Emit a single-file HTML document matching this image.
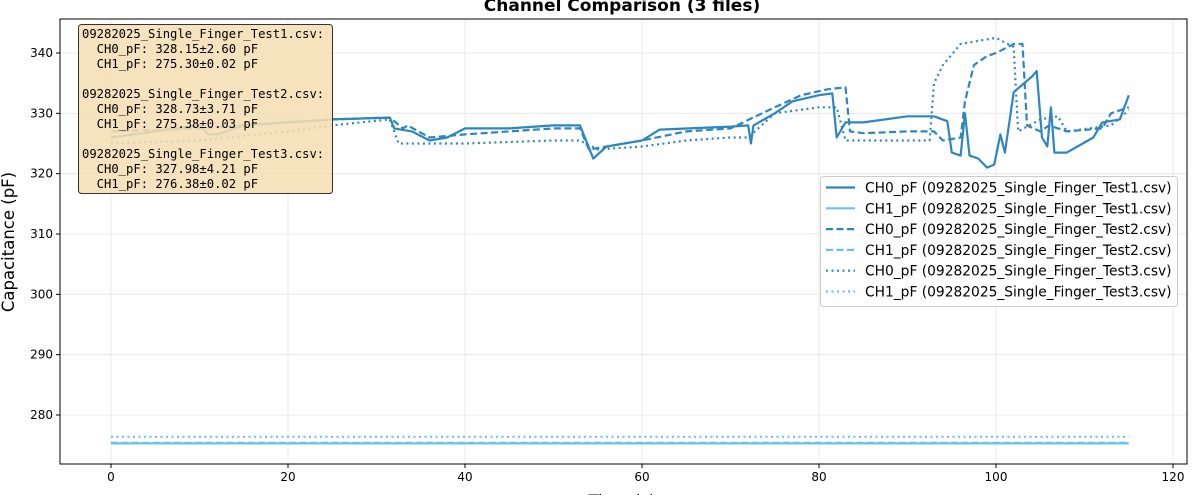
<!DOCTYPE html>
<html><head><meta charset="utf-8"><style>
body{margin:0;background:#fff;width:1199px;height:495px;overflow:hidden}
svg{display:block}
.sans{font-family:"DejaVu Sans","Liberation Sans",sans-serif}
.mono{font-family:"DejaVu Sans Mono","Liberation Mono",monospace;white-space:pre}
</style></head><body>
<svg id="chart" width="1199" height="495" xmlns="http://www.w3.org/2000/svg"></svg>
<script>
const xTicks=[0,20,40,60,80,100,120];
const yTicks=[280,290,300,310,320,330,340];
const t1=[0,5,10,11,12,15,20,25,31.5,32,34,36,38,40,45,50,53,54.5,56,60,62,70,72,72.3,72.6,75,77,80,81.5,82,83,85,90,93,94.5,95,96,96.5,97,98,99,99.8,100.5,101,102,104,104.6,105.2,105.8,106.2,106.6,108,111,112,114,115];
const ch0t1=[326,327,328,326.5,326.5,328,328.5,329,329.3,327.5,327,325.5,326,327.5,327.5,328,328,322.5,324.5,325.5,327.3,327.8,328,325,328,330,332,333,333.3,326,328.5,328.5,329.5,329.5,328.7,323.5,323,330,323,322.5,321,321.5,326.5,323.5,333.5,336,337,326,324.5,331,323.5,323.5,326,328.5,329,333];
const t2=[0,10,20,25,31.5,33,33.5,36,40,45,50,53,54,60,65,70,75,78,81,83,83.5,85,90,93,94,96,96.5,97.5,99,100,102,103,103.5,105,106,108,112,113,115];
const ch0t2=[327,327.5,328.5,329,329.3,327.5,328,326,326.5,327,327.5,327.5,324,325.5,327,327.5,331,333,334,334.3,327,326.7,327,327,325.5,326,332,338,339.5,340,341.5,341.5,328,327,328,327,327.5,330,331];
const t3=[0,10,20,25,31.5,32.5,40,50,53,55,60,65,70,72,75,80,82,83,90,92.5,93,94,96,98,100,102,102.5,105,107,108,113,115];
const ch0t3=[325,325.5,327,328,329,325,325,325.5,325.5,324,324.5,325.5,326,326,330,331,331,325.5,325.5,325.5,335,338,341.5,342,342.5,341,327,329,329.5,327,328,330.5];
const tFlat=[0,30,60,90,115];
const ch1t1=[275.3,275.3,275.3,275.29,275.3];
const ch1t2=[275.38,275.38,275.37,275.38,275.38];
const ch1t3=[276.38,276.38,276.38,276.38,276.38];

const L=60,R=1187,T=19,B=464;
const xs=v=>111+v*(1173-111)/120;
const ys=v=>53+(340-v)*(415-53)/60;
const svg=document.getElementById('chart');
const NS='http://www.w3.org/2000/svg';
function mk(tag,attrs,parent){const e=document.createElementNS(NS,tag);for(const k in attrs)e.setAttribute(k,attrs[k]);(parent||svg).appendChild(e);return e;}

xTicks.forEach(v=>{const g=mk('line',{x1:xs(v),x2:xs(v),y1:T,y2:B,stroke:'#e4e4e4','stroke-width':0.8});

const tk=mk('line',{x1:xs(v),x2:xs(v),y1:B,y2:B+4,stroke:'#000'});

const tx=mk('text',{x:xs(v),y:B+17,'text-anchor':'middle','font-size':12,class:'sans'});tx.textContent=v;
});
yTicks.forEach(v=>{const g=mk('line',{x1:L,x2:R,y1:ys(v),y2:ys(v),stroke:'#e4e4e4','stroke-width':0.8});

const tk=mk('line',{x1:L-4,x2:L,y1:ys(v),y2:ys(v),stroke:'#000'});

const tx=mk('text',{x:L-7,y:ys(v)+4,'text-anchor':'end','font-size':12,class:'sans'});tx.textContent=v;
});

const dark='#2e86c1',light='#6cc0ef';
const series=[[t1,ch0t1,dark,''],[tFlat,ch1t1,light,''],[t2,ch0t2,dark,'7,3.5'],[tFlat,ch1t2,light,'7,3.5'],[t3,ch0t3,dark,'2,3.5'],[tFlat,ch1t3,light,'2,3.5']];
series.forEach(s=>{const d=s[0].map((t,i)=>(i?'L':'M')+xs(t).toFixed(1)+','+ys(s[1][i]).toFixed(1)).join('');
const p=mk('path',{d:d,fill:'none',stroke:s[2],'stroke-width':2.2,'stroke-dasharray':s[3]||'none','stroke-linejoin':'round'});
});

const fr=mk('rect',{x:L,y:T,width:R-L,height:B-T,fill:'none',stroke:'#000','stroke-width':1});


const ti=mk('text',{x:622,y:11,'text-anchor':'middle','font-size':17,'font-weight':'bold',class:'sans'});ti.textContent='Channel Comparison (3 files)';

const yl=mk('text',{x:14,y:242,'text-anchor':'middle','font-size':16.5,class:'sans',transform:'rotate(-90 14 242)'});yl.textContent='Capacitance (pF)';

const xl=mk('text',{x:622,y:507,'text-anchor':'middle','font-size':16.5,class:'sans'});xl.textContent='Time (s)';


const sb=mk('rect',{x:78.5,y:24.5,width:254,height:169,rx:3,fill:'#f5deb3','fill-opacity':0.88,stroke:'#333','stroke-width':1});

const lines=['09282025_Single_Finger_Test1.csv:','  CH0_pF: 328.15±2.60 pF','  CH1_pF: 275.30±0.02 pF','','09282025_Single_Finger_Test2.csv:','  CH0_pF: 328.73±3.71 pF','  CH1_pF: 275.38±0.03 pF','','09282025_Single_Finger_Test3.csv:','  CH0_pF: 327.98±4.21 pF','  CH1_pF: 276.38±0.02 pF'];
lines.forEach((s,i)=>{if(!s)return;const t=mk('text',{x:82,y:38+i*15,'font-size':12.2,class:'mono'});t.textContent=s;
});

const lb=mk('rect',{x:820.5,y:176.5,width:357,height:130,rx:3,fill:'#fff','fill-opacity':0.85,stroke:'#ccc'});

const labels=['CH0_pF (09282025_Single_Finger_Test1.csv)','CH1_pF (09282025_Single_Finger_Test1.csv)','CH0_pF (09282025_Single_Finger_Test2.csv)','CH1_pF (09282025_Single_Finger_Test2.csv)','CH0_pF (09282025_Single_Finger_Test3.csv)','CH1_pF (09282025_Single_Finger_Test3.csv)'];
labels.forEach((s,i)=>{const y=187.5+i*20.8;
const ln=mk('line',{x1:826,x2:855,y1:y,y2:y,stroke:series[i][2],'stroke-width':2.2,'stroke-dasharray':series[i][3]||'none'});

const t=mk('text',{x:865,y:y+5,'font-size':13.8,class:'sans'});t.textContent=s;
});
</script>
</body></html>
